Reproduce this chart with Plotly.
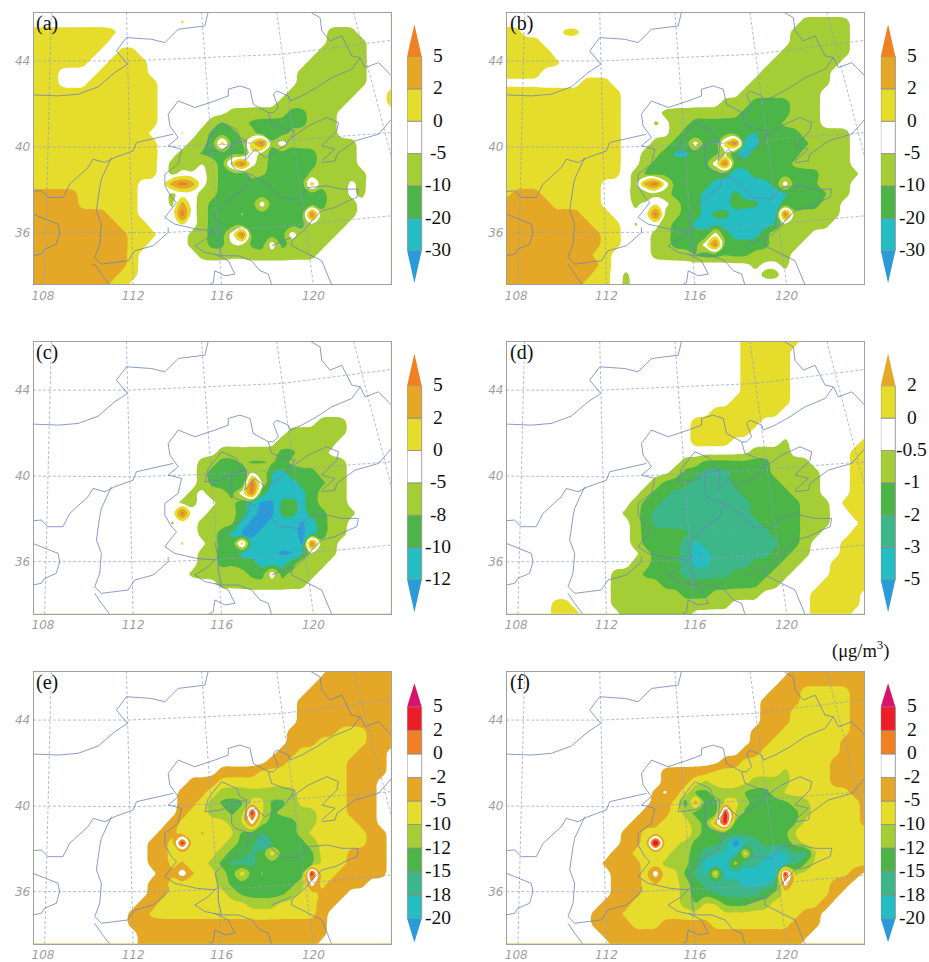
import re
import numpy as np
import plotly.graph_objects as go

# ---- band codes: . white, y yellow, g gold, o orange, r red, m magenta,
# l light green, G green, s sea green, T teal, B blue
COLORS = {".": "#ffffff", "y": "#e5dc2c", "g": "#e4a826", "o": "#f08022", "r": "#ee1c28", "m": "#d6146e",
          "l": "#a5cd35", "G": "#4bb547", "s": "#3db68a", "T": "#25bcc2", "B": "#2a9ad8"}
BANDS_ABC = "BTGl.ygo"
BANDS_D = "BTsGl.yg"
BANDS_EF = "BTsGlyg.orm"
LABELS_ABC_AB = ["-30", "-20", "-10", "-5", "0", "2", "5"]
LABELS_C = ["-12", "-10", "-8", "-5", "0", "2", "5"]
LABELS_D = ["-5", "-3", "-2", "-1", "-0.5", "0", "2"]
LABELS_EF = ["-20", "-18", "-15", "-12", "-10", "-5", "-2", "0", "2", "5"]

# each row: run-length coded band codes (code + repeat), west to east; north to south
PANEL_A = ["", ".15 y", "y9 .21 l3", "y8 .22 l4", "y7 .2 y2 .18 l5", "y6 .2 y4 .16 l6", "y3 .4 y5 .15 l7",
           "y3 .3 y7 .14 l7", "y13 .13 l7 .3 y", "y13 .12 l7 .4 y", "y13 .7 l6 G2 l3", "y13 .5 l G l2 G6 l3",
           "y12 .3 y . l G3 l2 G3 l5", "y13 .3 l2 G y G2 y o l . l7", "y13 .2 l2 G5 y l G5 l4",
           "y13 . l2 G . l G y o . l G5 l4", "y13 . l .3 l G3 l2 G4 l6", "y11 .3 g o g . l G4 T G4 y l3 . l",
           "g5 y6 .3 l .2 l2 G11 l2 . l", "g5 y6 .3 l g . l G5 . G6 l3", "g8 y3 .4 o . l G3 l G6 o l4",
           "g9 y3 .3 y . l G10 . l3", "g10 y3 .3 l2 G2 . o G4 . l4", "g10 y2 .4 l2 G2 .2 G2 . G l4",
           "g10 y .6 l12", "g6 o g3 y", "g9 y2", "g8 y2"]
PANEL_B = ["", ".30 l5", "y2 .4 y2 .21 l6", "y4 .25 l6", "y5 .23 l7", "y6 .21 l7", "y4 .22 l7", ".8 y3 .14 l8",
           "y12 .12 l8", "y12 .10 l3 G4 l3", "y12 .4 l8 G5 l3", "y12 .3 l . l2 G9 l4",
           "y12 .5 l G T G5 T l G3 l5", "y12 .3 l2 G2 . G T y o T2 G5 l4", "y12 .2 l2 G T2 G3 y T2 G5 l5",
           "y12 .2 l G6 . o G6 l6", "y12 . l G9 T2 G7 l4", "y10 .3 l g o . G4 T6 G . G3 . l2",
           "y g3 y6 .3 l G l2 G3 T3 G T5 G4 l2", "g5 y5 .3 l . y . l G2 T3 G3 T2 G4 l2",
           "g8 y3 .4 o l2 G2 T G2 T5 o l5", "g9 y3 . l .2 l G2 T9 . l4", "g10 y2 .3 l2 G4 . G T3 G . l3",
           "g10 y2 .3 l2 G3 . o G5 l3", "g9 y2 .4 l4 G6 l4", "g10 y .14 l .2 l", "g9 y2 . l .13 l2", "g8 y3 . l"]
PANEL_C = ["", "", "", "", "", "", "", "", ".29 l3", ".26 l6", ".25 l6", ".19 l6 G2 l3",
           ".17 l2 G2 l G2 l G l6", ".17 l G T G T .2 T2 G3 l3", ".17 l G3 T o . T3 G3 l2",
           ".16 l . l2 G . o G T4 G l3", ".15 l2 .2 l2 G T B2 G2 T G l3", ".15 o .2 l3 G T B2 G2 T G2 l3",
           ".14 l .2 l4 T B2 T3 B T G l2", ".17 l2 G T B2 T4 B T G l2", ".15 y .2 l G2 y T5 B o l2",
           ".17 l2 G2 T4 B2 T . l2", ".17 l2 G4 T3 G . l2", ".16 l4 . l G2 . G l3", ".19 l9", "", "", ""]
PANEL_D = [".24 y6", ".24 y5", ".24 y5", ".24 y5", ".24 y5", ".24 y5", ".23 y6", ".21 y7", ".19 y7", ".19 y6",
           ".19 y4 .5 l .7 y", ".25 l4 .6 y2", ".18 l2 G7 l4 .4 y2", ".17 l G2 s3 G4 l5 .3 y2",
           ".15 l G3 s4 G5 l4 .3 y2", ".14 l G2 s7 G5 l3 .3 y2", ".13 l G2 s9 G5 l3 . y3",
           ".12 l2 G s10 G5 l3 .2 y2", ".13 l G s11 G4 l3 .3 y", ".13 l G5 s2 T s T s3 G3 l2 .3 y2",
           ".13 l G4 s T s8 G2 l .3 y3", ".14 l G3 s T2 s6 G2 l2 .3 y3", ".13 l2 G3 s T2 s4 G3 l2 .3 y4",
           ".11 l3 G4 s5 G4 l2 .4 y4", ".11 l5 G10 l2 .4 y5", ".11 l7 G3 l5 .5 y5 .",
           ".5 y2 .4 l12 .8 y5", ".5 y3 .4 l7 .12 y4"]
PANEL_E = [".30 g7", ".29 g8", ".28 g9", ".27 g10", ".27 g10", ".27 g10", ".26 g5 y3 g3", ".26 g3 y5 g4",
           ".25 g2 y6 g3 .", ".24 g2 y6 g4", ".19 g4 y9 g4", ".16 g3 y13 g3", ".15 g3 y l8 y5 g3",
           ".15 g2 y l G3 y2 G2 l y5 g3", ".15 g y2 l2 G l r y G l4 y3 g3",
           ".14 g y5 l y . l G3 l2 y4 g2", ".13 g2 y2 g y3 G2 s G3 l y6 g2",
           ".12 g2 y r y4 l G2 T s l G2 l y5 g2", ".12 g2 y5 l G2 s G y G4 y3 g4",
           ".12 g2 y g y2 l G s3 G4 s G y3 g4", ".13 g2 . g y2 l G y G l G4 r y2 g5",
           ".12 g2 y5 l G7 l . y g4", ".12 g2 y6 l G5 l y2 g3", ".11 g2 y9 l3 y4 g2",
           ".10 g2 y17 g", ".10 g20", ".11 g19", ".11 g18"]
PANEL_F = [".29 g8", ".28 g9", ".27 g3 y5 g2", ".26 g4 y5 g2", ".26 g3 y6 g2", ".26 g3 y6 g2", ".25 g3 y7 g2",
           ".25 g2 y7 g3", ".24 g2 y8 g3", ".22 g2 y9 g4", ".16 g5 y7 l y4 g4", ".16 g3 y l y4 l4 y4 g4",
           ".15 g . g y G2 l3 G3 l y7 g2", ".15 g2 y G g G2 y2 l G4 l2 y5 g", ".14 g3 y l G3 r y G6 l y5 g",
           ".13 g3 y3 l G g r G7 y6 g", ".12 g2 y4 g l G9 y8", ".12 g2 y m y2 l G3 s B T s G3 l y7",
           ".11 g2 y4 l2 G s2 T2 y s2 T2 s2 l g y4", ".10 g4 y2 l3 G T B T l s2 T B T s G y6",
           ".11 g3 y . y2 G s T y T6 r y6 g", ".11 g3 y g y2 l G s4 T3 s . y4 g2",
           ".11 g3 y4 l G2 s5 G l y5 g", ".10 g3 y5 l G y2 G3 l2 y5 g", ".9 g3 y18 g2",
           ".9 g4 y3 g5 y8 g3", ".10 g21", ".11 g19"]

# province and coast lines, and the graticule, in projected map units
BORDERS = [
    [(620, 43), (610, 85), (530, 95), (490, 135), (450, 125), (375, 120), (345, 160), (378, 200), (340, 225),
     (290, 268), (230, 290), (170, 295), (95, 292)],
    [(925, 43), (955, 60), (960, 100), (985, 130), (1020, 115), (1050, 175), (1075, 180), (1090, 210), (1130, 195),
     (1169, 235)],
    [(1075, 180), (1050, 215), (990, 240), (945, 270), (900, 295), (865, 310), (860, 295), (825, 280), (815, 290),
     (830, 330), (815, 345), (800, 345), (755, 320), (745, 275), (715, 265), (680, 275), (680, 295), (640, 310),
     (580, 330), (555, 320), (530, 310), (500, 350), (505, 385), (530, 420), (500, 445), (540, 455), (530, 500),
     (490, 530), (490, 565), (510, 600), (525, 615), (490, 660), (520, 680), (585, 695), (640, 700), (620, 720),
     (580, 745), (610, 765), (660, 775), (710, 775), (750, 790), (775, 820), (800, 830), (810, 863)],
    [(95, 582), (120, 580), (140, 600), (185, 600), (205, 560), (260, 510), (275, 485), (310, 495), (340, 480),
     (395, 460), (405, 435), (450, 425), (500, 415), (515, 410)],
    [(330, 480), (300, 545), (295, 570), (285, 640), (300, 680), (295, 740), (280, 780), (300, 800), (380, 790),
     (400, 760), (455, 745), (500, 705), (500, 690)],
    [(280, 800), (300, 830), (325, 863)],
    [(95, 650), (170, 680), (175, 705), (165, 740), (130, 755), (120, 770), (95, 775)],
    [(610, 465), (660, 460), (690, 440), (735, 430), (715, 420), (705, 395), (660, 375), (620, 425), (610, 465)],
    [(690, 440), (690, 500), (700, 515), (745, 530), (790, 555), (835, 600), (890, 605), (920, 570), (975, 565),
     (1020, 575), (1070, 575), (1065, 600), (1040, 610), (1000, 630), (960, 640), (930, 670), (915, 690),
     (870, 730), (870, 745), (920, 770), (960, 790), (990, 863)],
    [(745, 530), (735, 570), (680, 610), (640, 650), (650, 690), (650, 730), (660, 775)],
    [(650, 690), (640, 700)],
    [(640, 770), (680, 790), (700, 830), (670, 835), (640, 820), (635, 855), (620, 863)],
    [(735, 430), (730, 490), (760, 455), (790, 480), (850, 445), (880, 400), (850, 395), (810, 380), (800, 345)],
    [(870, 420), (920, 385), (975, 360), (1010, 375), (1005, 400), (975, 430), (960, 445), (980, 450), (1000, 455),
     (960, 490)],
    [(1169, 365), (1130, 410), (1060, 430), (1025, 455), (1005, 470), (1000, 490), (960, 495)],
    [(810, 745), (870, 720)],
]
GRAT_LON = [[(150, 43), (130, 863)], [(375, 43), (395, 863)], [(600, 43), (660, 863)], [(825, 43), (935, 863)],
            [(1055, 43), (1169, 480)]]
GRAT_LAT = [[(95, 190), (380, 190), (840, 170), (1169, 128)], [(95, 448), (400, 450), (700, 440), (1169, 405)],
            [(95, 705), (500, 705), (800, 690), (1169, 655)]]
LON_TICKS = [125, 395, 660, 935]
LON_TEXT = ["108", "112", "116", "120"]
LAT_TICKS = [190, 448, 705]
LAT_TEXT = ["44", "40", "36"]

W, H = 929, 962
NCOL, NROW = 37, 28
grid_x = np.linspace(95, 1169, NCOL)
grid_y = np.linspace(43, 863, NROW)


def decode(rows, bands, name):
    out = []
    for k, row in enumerate(rows):
        s = ""
        for code, cnt in re.findall(r"([.a-zA-Z])(\d*)", row):
            s += code * int(cnt or 1)
        if len(s) > NCOL:
            print("long", name, k, len(s))
        s = s.ljust(NCOL, ".")[:NCOL]
        out.append([bands.index(c) for c in s])
    return np.array(out, dtype=float)


def soften(z):
    """Round the band edges a little; isolated hot spots keep the value that was read."""
    pad = np.pad(z, 1, mode="edge")
    win = np.stack([pad[1 + a:pad.shape[0] - 1 + a, 1 + b:pad.shape[1] - 1 + b]
                    for a in (-1, 0, 1) for b in (-1, 0, 1)])
    med = np.median(win, axis=0)
    spike = np.abs(z - med) >= 2
    base = np.where(spike, med, z)
    pad = np.pad(base, 1, mode="edge")
    kern = {-1: 1.0, 0: 6.0, 1: 1.0}
    tot = sum(kern[a] * kern[b] * pad[1 + a:pad.shape[0] - 1 + a, 1 + b:pad.shape[1] - 1 + b]
              for a in (-1, 0, 1) for b in (-1, 0, 1)) / 64.0
    return np.where(spike, z, tot)


def line_xy(lines):
    xs, ys = [], []
    for ln in lines:
        xs += [p[0] for p in ln] + [None]
        ys += [p[1] for p in ln] + [None]
    return xs, ys


panels = [
    ("(a)", PANEL_A, BANDS_ABC, LABELS_ABC_AB, 31.7, 12.7, 406),
    ("(b)", PANEL_B, BANDS_ABC, LABELS_ABC_AB, 506, 12.7, 880.7),
    ("(c)", PANEL_C, BANDS_ABC, LABELS_C, 31.7, 344, 406),
    ("(d)", PANEL_D, BANDS_D, LABELS_D, 506, 344, 880.7),
    ("(e)", PANEL_E, BANDS_EF, LABELS_EF, 31.7, 676, 406),
    ("(f)", PANEL_F, BANDS_EF, LABELS_EF, 506, 676, 880.7),
]

fig = go.Figure()
layout = dict(width=W, height=H, margin=dict(l=0, r=0, t=0, b=0), paper_bgcolor="white", plot_bgcolor="white",
              showlegend=False, barmode="overlay", autosize=False)
annotations = []
TICKFONT = dict(family="DejaVu Sans", size=12, color="#a0a0a0", style="italic")
SERIF = "Liberation Serif"
bx, by = line_xy(BORDERS)
gx, gy = line_xy(GRAT_LON + GRAT_LAT)

for i, (tag, rows, bands, labels, px, py, cbx) in enumerate(panels):
    m = 2 * i + 1
    c = 2 * i + 2
    xa, ya = f"x{m}", f"y{m}"
    xc, yc = f"x{c}", f"y{c}"
    n = len(bands)
    z = soften(decode(rows, bands, tag))
    scale = [[k / (n - 1), COLORS[bands[k]]] for k in range(n)]
    fig.add_trace(go.Contour(x=grid_x, y=grid_y, z=z, xaxis=xa, yaxis=ya, colorscale=scale, showscale=False,
                             autocontour=False, contours=dict(start=0.5, end=n - 1.5, size=1, coloring="fill"),
                             line=dict(width=0, smoothing=1.3), hoverinfo="skip"))
    fig.add_trace(go.Scatter(x=gx, y=gy, xaxis=xa, yaxis=ya, mode="lines", hoverinfo="skip",
                             line=dict(color="#8f9ecf", width=0.7, dash="3px,2px")))
    fig.add_trace(go.Scatter(x=bx, y=by, xaxis=xa, yaxis=ya, mode="lines", hoverinfo="skip",
                             line=dict(color="#6f83b8", width=0.8)))
    axis_common = dict(showgrid=False, zeroline=False, showline=True, linecolor="#a0a0a0", linewidth=1, mirror=True,
                       ticks="", tickfont=TICKFONT, layer="above traces")
    layout[f"xaxis{m}"] = dict(domain=[px / W, (px + 358) / W], range=[97, 1167], anchor=ya, tickmode="array",
                               tickvals=LON_TICKS, ticktext=LON_TEXT, tickangle=0, **axis_common)
    layout[f"yaxis{m}"] = dict(domain=[1 - (py + 273.5) / H, 1 - py / H], range=[861, 45], anchor=xa, tickmode="array",
                               tickvals=LAT_TICKS, ticktext=LAT_TEXT, **axis_common)
    annotations.append(dict(x=99, y=46, xref=xa, yref=ya, text=tag, showarrow=False, xanchor="left", yanchor="top",
                            yshift=3, font=dict(family=SERIF, size=20, color="#111111")))
    # colour key: stacked band bars with pointed ends
    rect = list(bands[1:-1])
    nr = len(rect)
    fig.add_trace(go.Bar(x=[0.5] * nr, y=[1] * nr, base=list(range(nr)), width=1, xaxis=xc, yaxis=yc,
                         marker=dict(color=[COLORS[b] for b in rect], line=dict(color="#8c8c8c", width=0.8)),
                         hoverinfo="skip"))
    fig.add_trace(go.Scatter(x=[0, 1, 0.5, 0], y=[0, 0, -1, 0], xaxis=xc, yaxis=yc, mode="lines", fill="toself",
                             fillcolor=COLORS[bands[0]], line=dict(width=0), hoverinfo="skip"))
    fig.add_trace(go.Scatter(x=[0, 1, 0.5, 0], y=[nr, nr, nr + 1, nr], xaxis=xc, yaxis=yc, mode="lines", fill="toself",
                             fillcolor=COLORS[bands[-1]], line=dict(width=0), hoverinfo="skip"))
    cb_top = py + 11.6
    layout[f"xaxis{c}"] = dict(domain=[cbx / W, (cbx + 48) / W], range=[0, 48 / 14.6], visible=False, anchor=yc,
                               fixedrange=True)
    layout[f"yaxis{c}"] = dict(domain=[1 - (cb_top + 260.5) / H, 1 - cb_top / H], range=[-1, nr + 1], visible=False,
                               anchor=xc, fixedrange=True)
    for k, lab in enumerate(labels):
        annotations.append(dict(x=2.12, y=k, xref=xc, yref=yc, text=lab, showarrow=False, yshift=1,
                                font=dict(family=SERIF, size=19.5, color="#111111")))

annotations.append(dict(x=861 / W, y=1 - 654 / H, xref="paper", yref="paper", text="(μg/m<sup>3</sup>)", showarrow=False,
                        xanchor="center", yanchor="middle", font=dict(family=SERIF, size=18.5, color="#111111")))
layout["annotations"] = annotations
fig.update_layout(**layout)
fig.write_html("out.html", config={"displayModeBar": False},
               post_script="document.body.style.margin='0';document.body.style.overflow='hidden';")
